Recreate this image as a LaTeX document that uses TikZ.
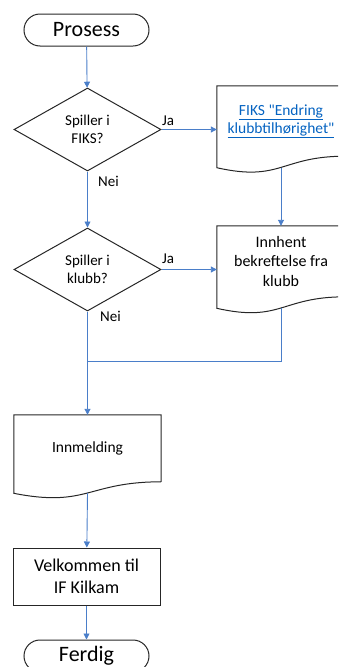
\documentclass[tikz,border=0pt]{standalone}
\usepackage{fontspec}
\setmainfont{Carlito}[Ligatures=TeXOff]
\usetikzlibrary{shapes.geometric,arrows.meta,calc}
\definecolor{flowblue}{HTML}{4A7EC9}
\definecolor{linkblue}{HTML}{0563C1}
\definecolor{edge}{HTML}{262626}
\tikzset{
  terminal/.style={draw=edge,line width=1pt,rectangle,rounded corners=16pt,
    minimum width=125pt,minimum height=32pt,inner sep=0pt,
    font=\fontsize{22}{26}\selectfont},
  decision/.style={draw=edge,line width=1pt,diamond,minimum width=147pt,
    minimum height=83pt,inner sep=0pt,align=center,
    font=\fontsize{15}{17.5}\selectfont},
  document/.style={rectangle,inner sep=0pt,align=center},
  process/.style={draw=edge,line width=1pt,rectangle,minimum width=147pt,
    minimum height=57pt,inner sep=0pt,align=center,
    font=\fontsize{18}{22}\selectfont},
  branch/.style={inner sep=0pt,font=\fontsize{15}{17}\selectfont},
  flowline/.style={draw=flowblue,line width=0.9pt},
  flow/.style={flowline,-{Triangle[length=6pt,width=6pt]}},
}
% wavy bottom of a document node, drawn round the node's text box
\newcommand{\docframe}[1]{%
  \draw[draw=edge,line width=1pt] (#1.south east) -- (#1.north east)
    -- (#1.north west) -- ([yshift=-11.5pt]#1.south west)
    .. controls ([yshift=-26pt]#1.south) and (#1.south) .. (#1.south east);
  \coordinate (#1-wave) at ([yshift=-11.4pt]#1.south);
}
\begin{document}
\begin{tikzpicture}[x=1pt,y=-1pt]
  \useasboundingbox (0,0) rectangle (338,667);
  \clip (0,0) rectangle (338,667);
  % left column
  \node[terminal] (start) at (86.5,30) {Prosess};
  \node[decision] (dia1) at (87.5,129.5) {Spiller i\\FIKS?};
  \node[decision] (dia2) at (87.5,269.5) {Spiller i\\klubb?};
  \node[document,minimum width=147pt,minimum height=66.6pt,
    font=\fontsize{15.5}{18}\selectfont] (innm) at (87.5,448.3) {Innmelding};
  \node[process] (velk) at (86.5,576.5) {Velkommen til\\IF Kilkam};
  \node[terminal] (end) at (86.5,656) {Ferdig};
  % right column
  \node[document,minimum width=128pt,minimum height=70pt,text=linkblue,
    font=\fontsize{15.5}{18}\selectfont] (fiks) at (281,121)
    {\underline{FIKS "Endring}\\\underline{klubbtilhørighet"}};
  \node[document,minimum width=128pt,minimum height=70.6pt,
    font=\fontsize{16}{19.5}\selectfont] (innh) at (281,261.3)
    {Innhent\\bekreftelse fra\\klubb};
  \docframe{fiks}
  \docframe{innh}
  \docframe{innm}
  % branch labels
  \node[branch] (ja1) at (168,121) {Ja};
  \node[branch] (nei1) at (108.5,181) {Nei};
  \node[branch] (ja2) at (168,259) {Ja};
  \node[branch] (nei2) at (110.5,316) {Nei};
  % connectors
  \coordinate (join) at (87.5,361);
  \draw[flow] (start) -- (dia1);
  \draw[flow] (dia1.east) -- (dia1.east -| fiks.west);
  \draw[flow] (fiks-wave) -- (innh.north);
  \draw[flow] (dia1) -- (dia2);
  \draw[flow] (dia2.east) -- (dia2.east -| innh.west);
  \draw[flowline] (innh-wave) |- (join);
  \draw[flow] (dia2) -- (innm);
  \draw[flow] (innm-wave) -- (velk);
  \draw[flow] (velk) -- (end);
\end{tikzpicture}
\end{document}
